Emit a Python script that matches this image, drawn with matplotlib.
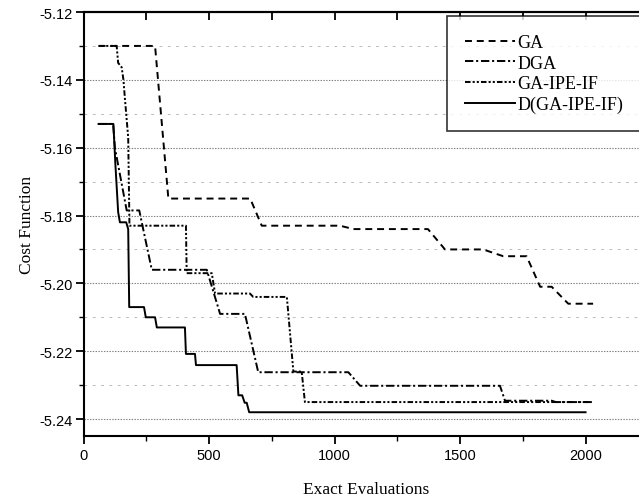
import numpy as np
import matplotlib
matplotlib.use('Agg')
import matplotlib.pyplot as plt
from matplotlib.ticker import MultipleLocator, FormatStrFormatter

plt.rcParams['axes.unicode_minus'] = False
plt.rcParams['lines.scale_dashes'] = False

# convergence curves: exact evaluations vs. best cost
ga_x = [60, 285, 338, 664, 710, 1022, 1075, 1372, 1440, 1592, 1672, 1765, 1819, 1865, 1931, 2030]
ga_y = [-5.130, -5.130, -5.175, -5.175, -5.183, -5.183, -5.184, -5.184, -5.190, -5.190,
        -5.192, -5.192, -5.201, -5.201, -5.206, -5.206]

dga_x = [60, 118, 125, 172, 222, 272, 491, 544, 643, 696, 1055, 1102, 1659, 1679, 1865, 1882, 2025]
dga_y = [-5.153, -5.153, -5.160, -5.1785, -5.1785, -5.196, -5.196, -5.209, -5.209, -5.2262,
         -5.2262, -5.2302, -5.2302, -5.2346, -5.2346, -5.235, -5.235]

ipe_x = [60, 132, 138, 152, 159, 165, 178, 183, 408, 411, 511, 524, 663, 676, 810, 836, 869, 882, 2025]
ipe_y = [-5.130, -5.130, -5.135, -5.1363, -5.140, -5.1456, -5.157, -5.183, -5.183, -5.197,
         -5.197, -5.203, -5.203, -5.204, -5.204, -5.226, -5.226, -5.235, -5.235]

dipe_x = [60, 119, 127, 138, 145, 170, 178, 182, 241, 248, 285, 292, 404, 408, 444, 448,
          610, 617, 632, 642, 650, 660, 2000]
dipe_y = [-5.153, -5.153, -5.165, -5.179, -5.182, -5.182, -5.184, -5.207, -5.207, -5.210,
          -5.210, -5.213, -5.213, -5.2208, -5.2208, -5.2241, -5.2241, -5.233, -5.233,
          -5.2352, -5.2352, -5.238, -5.238]

labels = ['GA', 'DGA', 'GA-IPE-IF', 'D(GA-IPE-IF)']

serif = ['Liberation Serif', 'DejaVu Serif']
narrow = ['Liberation Sans Narrow', 'Liberation Sans', 'DejaVu Sans']

fig = plt.figure(figsize=(6.39, 5.02), dpi=100)
ax = fig.add_axes([0.1307, 0.1295, 0.8839, 0.8446])

lw = 1.4
ax.plot(ga_x, ga_y, color='black', lw=lw, dashes=(5, 3.5), label=labels[0])
ax.plot(dga_x, dga_y, color='black', lw=lw, dashes=(6, 2, 1.5, 2), label=labels[1])
ax.plot(ipe_x, ipe_y, color='black', lw=lw, dashes=(4, 1.5, 1.5, 1.5, 1.5, 1.5), label=labels[2])
ax.plot(dipe_x, dipe_y, color='black', lw=lw, label=labels[3])

ax.set_xlim(0, 2250)
ax.set_ylim(-5.245, -5.12)

ax.xaxis.set_major_locator(MultipleLocator(500))
ax.xaxis.set_minor_locator(MultipleLocator(250))
ax.yaxis.set_major_locator(MultipleLocator(0.02))
ax.yaxis.set_minor_locator(MultipleLocator(0.01))
ax.yaxis.set_major_formatter(FormatStrFormatter('%.2f'))

ax.grid(True, which='major', axis='y', color='#808080', ls=(0, (1, 1)), lw=0.8)
ax.grid(True, which='minor', axis='y', color='#b0b0b0', ls=(0, (2, 4)), lw=0.6)
ax.set_axisbelow(True)

for s in ax.spines.values():
    s.set_linewidth(1.5)

ax.tick_params(which='major', direction='out', length=6, width=1.3, labelsize=10.5)
ax.tick_params(which='minor', direction='out', length=3.5, width=1.0)
ax.tick_params(axis='x', which='major', pad=3)
ax.tick_params(axis='y', which='major', pad=2)
for t in ax.get_xticklabels() + ax.get_yticklabels():
    t.set_family(narrow)

# inward ticks along the top edge
top = ax.secondary_xaxis('top')
top.xaxis.set_major_locator(MultipleLocator(250))
top.tick_params(direction='in', length=6, width=1.3, labeltop=False)
top.spines['top'].set_linewidth(1.5)

ax.set_xlabel('Exact Evaluations', family=serif, fontsize=12.5, labelpad=13)
ax.set_ylabel('Cost Function', family=serif, fontsize=12.5, labelpad=3)

leg = ax.legend(loc='upper left', bbox_to_anchor=(447 / 639, 1 - 17 / 502),
                bbox_transform=fig.transFigure, borderaxespad=0,
                prop={'family': serif, 'size': 13}, frameon=True, fancybox=False,
                handlelength=2.75, handletextpad=0.15, labelspacing=0.2,
                borderpad=1.0)
leg.get_frame().set_edgecolor('black')
leg.get_frame().set_linewidth(1.2)

fig.savefig('out.png', dpi=100)
